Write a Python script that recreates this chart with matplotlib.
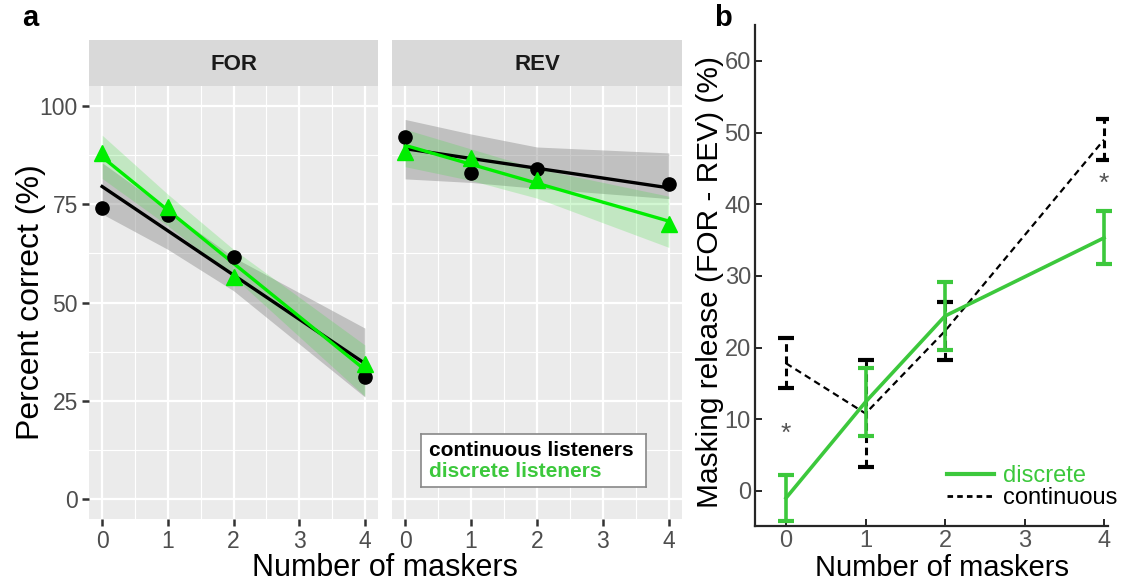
import numpy as np
import matplotlib
matplotlib.use('Agg')
import matplotlib.pyplot as plt

plt.rcParams['font.family'] = ['Liberation Sans', 'DejaVu Sans']

# panel a data
maskers = [0, 1, 2, 4]
for_cont = [74.1, 72.3, 61.6, 31.2]
for_disc = [88.0, 74.3, 56.6, 34.4]
rev_cont = [92.0, 82.9, 83.8, 80.2]
rev_disc = [88.3, 86.8, 81.0, 69.9]

# confidence bands (lower, upper) at each masker count
for_cont_lo = [72.5, 63.5, 53.0, 26.0]
for_cont_hi = [85.5, 73.5, 61.5, 43.5]
for_disc_lo = [81.5, 69.5, 56.5, 26.2]
for_disc_hi = [92.5, 77.5, 63.5, 39.2]
rev_cont_lo = [81.4, 80.5, 79.0, 76.4]
rev_cont_hi = [96.5, 92.8, 89.5, 88.0]
rev_disc_lo = [84.5, 81.0, 76.5, 64.0]
rev_disc_hi = [94.0, 89.0, 84.0, 77.0]

# panel b data
disc_mean = [-1.0, 12.4, 24.4, 35.3]
disc_err = [3.2, 4.8, 4.7, 3.7]
cont_mean = [17.8, 10.8, 22.3, 49.0]
cont_err = [3.5, 7.5, 4.0, 2.9]
star_x = [0, 4]
star_y = [8.0, 42.8]

GREEN = '#00EE00'
GREEN_B = '#3CC83C'

fig = plt.figure(figsize=(11.32, 5.86), dpi=100)
W, H = 1132, 586


def px_axes(x0, y0, x1, y1):
    return fig.add_axes([x0 / W, 1 - y1 / H, (x1 - x0) / W, (y1 - y0) / H])


facets = [
    ('FOR', 89, 378, for_cont, for_disc, for_cont_lo, for_cont_hi, for_disc_lo, for_disc_hi),
    ('REV', 392, 682, rev_cont, rev_disc, rev_cont_lo, rev_cont_hi, rev_disc_lo, rev_disc_hi),
]

axes_a = []
for name, x0, x1, cont, disc, clo, chi, dlo, dhi in facets:
    ax = px_axes(x0, 86, x1, 519)
    axes_a.append(ax)
    ax.set_facecolor('#EBEBEB')
    ax.set_xlim(-0.2, 4.2)
    ax.set_ylim(-5, 105)
    ax.set_xticks([0, 1, 2, 3, 4])
    ax.set_yticks([0, 25, 50, 75, 100])
    ax.set_xticks([0.5, 1.5, 2.5, 3.5], minor=True)
    ax.set_yticks([12.5, 37.5, 62.5, 87.5], minor=True)
    ax.grid(which='major', color='white', lw=1.6)
    ax.grid(which='minor', color='white', lw=0.8)
    ax.set_axisbelow(True)
    for s in ax.spines.values():
        s.set_visible(False)
    ax.tick_params(which='minor', length=0)
    ax.tick_params(which='major', length=5, width=1.8, color='#333333',
                   labelcolor='#4D4D4D', labelsize=16.5, pad=3)

    xs = np.array(maskers)
    ax.fill_between(xs, clo, chi, color='#8C8C8C', alpha=0.45, lw=0)
    ax.fill_between(xs, dlo, dhi, color='#33DD33', alpha=0.22, lw=0)
    xx = np.array([0, 4])
    pc = np.polyfit(xs, cont, 1)
    pd_ = np.polyfit(xs, disc, 1)
    ax.plot(xx, np.polyval(pc, xx), color='black', lw=2.4, zorder=3)
    ax.plot(xx, np.polyval(pd_, xx), color=GREEN, lw=2.4, zorder=4)
    ax.plot(xs, cont, 'o', color='black', ms=9.5, zorder=5, clip_on=False)
    ax.plot(xs, disc, '^', color=GREEN, ms=11, zorder=6, clip_on=False)

    strip = px_axes(x0, 40, x1, 86)
    strip.set_facecolor('#D9D9D9')
    strip.set_xticks([])
    strip.set_yticks([])
    for s in strip.spines.values():
        s.set_visible(False)
    strip.text(0.5, 0.47, name, ha='center', va='center', fontsize=16,
               fontweight='bold', color='#1A1A1A', transform=strip.transAxes)

axes_a[1].tick_params(axis='y', length=0, labelleft=False)
axes_a[0].set_ylabel('Percent correct (%)', fontsize=23)
axes_a[0].yaxis.set_label_coords(-0.148, 0.5)

# legend box in panel a
leg_ax = px_axes(421, 434, 646, 487)
leg_ax.set_xticks([])
leg_ax.set_yticks([])
leg_ax.set_facecolor('white')
for s in leg_ax.spines.values():
    s.set_color('#888888')
    s.set_linewidth(1.2)
leg_ax.text(0.035, 0.68, 'continuous listeners', color='black', fontsize=15,
            fontweight='bold', va='center', transform=leg_ax.transAxes)
leg_ax.text(0.035, 0.3, 'discrete listeners', color=GREEN_B, fontsize=15,
            fontweight='bold', va='center', transform=leg_ax.transAxes)

fig.text(385 / W, 1 - 568 / H, 'Number of maskers', ha='center', va='center', fontsize=22)
fig.text(30 / W, 1 - 18 / H, 'a', ha='center', va='center', fontsize=21, fontweight='bold')

# panel b
axb = px_axes(755, 25, 1108, 526)
axb.set_xlim(-0.39, 4.05)
axb.set_ylim(-4.9, 65)
axb.set_xticks([0, 1, 2, 3, 4])
axb.set_yticks([0, 10, 20, 30, 40, 50, 60])
for side in ['top', 'right']:
    axb.spines[side].set_visible(False)
for side in ['left', 'bottom']:
    axb.spines[side].set_color('#262626')
    axb.spines[side].set_linewidth(1.6)
axb.tick_params(direction='in', length=5, width=1.4, color='#262626',
                labelcolor='#555555', labelsize=17, pad=3)

eb_c = axb.errorbar(maskers, cont_mean, yerr=cont_err, color='black', lw=1.6,
                    ls=(0, (3, 2)), capsize=6, capthick=3, elinewidth=2.2, zorder=3)
eb_c[2][0].set_linestyle((0, (2.5, 1.5)))
axb.errorbar(maskers, disc_mean, yerr=disc_err, color=GREEN_B, lw=2.6, ls='-',
             capsize=6, capthick=3, elinewidth=2.6, zorder=4, clip_on=False)
for sx, sy in zip(star_x, star_y):
    axb.text(sx, sy, '*', ha='center', va='center', fontsize=19, color='#555555')

h1, = axb.plot([], [], color=GREEN_B, lw=3, ls='-')
h2, = axb.plot([], [], color='black', lw=2, ls=(0, (2, 1.5)))
leg = axb.legend([h1, h2], ['discrete', 'continuous'], loc='lower right',
                 frameon=False, fontsize=17, handlelength=2.0, handletextpad=0.4,
                 labelspacing=0.0, borderaxespad=0.3, bbox_to_anchor=(1.074, 0.0))
leg.get_texts()[0].set_color(GREEN_B)

axb.set_ylabel('Masking release (FOR - REV) (%)', fontsize=21.5)
axb.yaxis.set_label_coords(-0.088, 0.487)
fig.text(942 / W, 1 - 568 / H, 'Number of maskers', ha='center', va='center', fontsize=21)
fig.text(723 / W, 1 - 18 / H, 'b', ha='center', va='center', fontsize=21, fontweight='bold')

fig.savefig('out.png', dpi=100)
